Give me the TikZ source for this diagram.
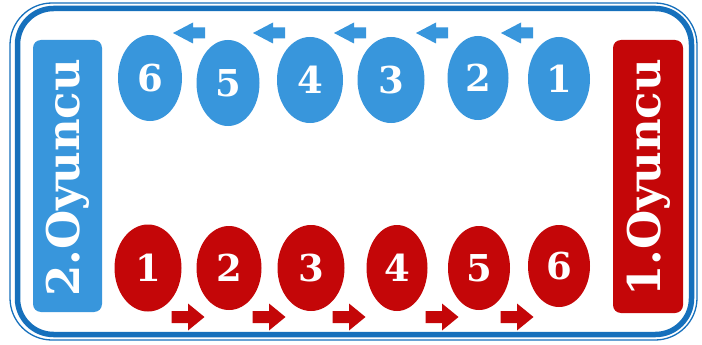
\documentclass[tikz,border=0pt]{standalone}
\usepackage{fontspec}
\setmainfont{DejaVu Serif}
\usetikzlibrary{shapes.geometric}
\definecolor{pblue}{RGB}{56,150,220}
\definecolor{pred}{RGB}{196,6,8}
\definecolor{fblue}{RGB}{22,112,188}
\tikzset{
  bball/.style={ellipse, fill=pblue, inner sep=0pt, text=white,
    font=\fontsize{37}{37}\selectfont\bfseries},
  rball/.style={ellipse, fill=pred, inner sep=0pt, text=white,
    font=\fontsize{37}{37}\selectfont\bfseries},
  labelbox/.style={rounded corners=8pt, inner sep=0pt, text=white,
    font=\fontsize{45}{45}\selectfont\bfseries},
  larrow/.pic={\fill[pblue] (-16,-5.5) -- (-4,-5.5) -- (-4,-10.5) -- (16,0) -- (-4,10.5) -- (-4,5.5) -- (-16,5.5) -- cycle;},
  rarrow/.pic={\fill[pred] (-16.5,-6) -- (0,-6) -- (0,-13.5) -- (16.5,0) -- (0,13.5) -- (0,6) -- (-16.5,6) -- cycle;}
}
\begin{document}
\begin{tikzpicture}[x=1pt,y=-1pt]
\useasboundingbox (0,0) rectangle (702,345);
\fill[white] (0,0) rectangle (702,345);
% frame
\draw[fblue, line width=1.3pt, rounded corners=42pt] (10,3) rectangle (697,340);
\draw[fblue, line width=5.5pt, rounded corners=36pt] (17.5,8.5) rectangle (691.5,334.5);
% player boxes
\fill[pblue, rounded corners=8pt] (33,40) rectangle (102,312);
\node[labelbox, rotate=90] (p2) at (68,178) {2.Oyuncu};
\fill[pred, rounded corners=8pt] (613,40) rectangle (683,313);
\node[labelbox, rotate=90] (p1) at (648.5,178) {1.Oyuncu};
% top row (blue)
\node[bball, minimum width=64pt, minimum height=86pt] (b6) at (150,78) {6};
\node[bball, minimum width=63pt, minimum height=86pt] (b5) at (228,83) {5};
\node[bball, minimum width=66pt, minimum height=86pt] (b4) at (310,80) {4};
\node[bball, minimum width=67pt, minimum height=86pt] (b3) at (391,80) {3};
\node[bball, minimum width=61pt, minimum height=84pt] (b2) at (478,78) {2};
\node[bball, minimum width=62pt, minimum height=84pt] (b1) at (559,79) {1};
\pic[rotate=180] at (189,33) {larrow};
\pic[rotate=180] at (269,33) {larrow};
\pic[rotate=180] at (350,33) {larrow};
\pic[rotate=180] at (432,33) {larrow};
\pic[rotate=180] at (517,33) {larrow};
% bottom row (red)
\node[rball, minimum width=67pt, minimum height=87pt] (r1) at (148,268) {1};
\node[rball, minimum width=65pt, minimum height=84pt] (r2) at (229,268) {2};
\node[rball, minimum width=67pt, minimum height=86pt] (r3) at (311,268) {3};
\node[rball, minimum width=61pt, minimum height=86pt] (r4) at (397,268) {4};
\node[rball, minimum width=62pt, minimum height=84pt] (r5) at (479,268) {5};
\node[rball, minimum width=62pt, minimum height=82pt] (r6) at (559,266) {6};
\pic at (188,317) {rarrow};
\pic at (269,317) {rarrow};
\pic at (349,317) {rarrow};
\pic at (442,317) {rarrow};
\pic at (517,317) {rarrow};
\end{tikzpicture}
\end{document}
